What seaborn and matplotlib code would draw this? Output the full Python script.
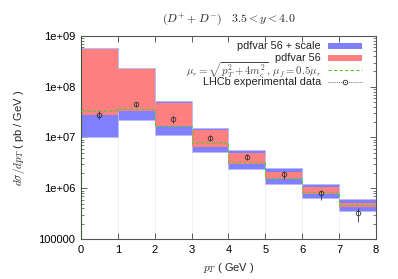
"""Recreate the D+ + D- pT spectrum plot (3.5 < y < 4.0)."""

import matplotlib

matplotlib.use("Agg")
import matplotlib.pyplot as plt
import numpy as np
import seaborn as sns
from matplotlib.lines import Line2D
from matplotlib.patches import Rectangle

# bin edges in pT (GeV)
pt_edges = [0, 1, 2, 3, 4, 5, 6, 7, 8]

# pdfvar 56 + scale envelope
scale_hi = [5.7e8, 2.3e8, 5.2e7, 1.52e7, 5.7e6, 2.54e6, 1.21e6, 6.1e5]
scale_lo = [1.04e7, 2.2e7, 1.12e7, 5.1e6, 2.4e6, 1.21e6, 6.3e5, 3.57e5]

# pdfvar 56 band
pdf_hi = [5.5e8, 2.24e8, 4.7e7, 1.39e7, 4.9e6, 2.12e6, 1.04e6, 5.2e5]
pdf_lo = [2.8e7, 3.3e7, 1.7e7, 6.6e6, 3.0e6, 1.5e6, 7.7e5, 4.3e5]

# central prediction
central = [3.4e7, 3.6e7, 1.7e7, 7.7e6, 3.24e6, 1.59e6, 8.55e5, 4.7e5]

# LHCb data
lhcb_pt = [0.5, 1.5, 2.5, 3.5, 4.5, 5.5, 6.5, 7.5]
lhcb_val = [2.8e7, 4.5e7, 2.3e7, 9.9e6, 4.2e6, 1.88e6, 7.9e5, 3.2e5]
lhcb_lo = [2.3e7, 4.0e7, 1.95e7, 8.6e6, 3.6e6, 1.55e6, 5.9e5, 2.2e5]
lhcb_hi = [3.4e7, 5.1e7, 2.6e7, 1.1e7, 4.7e6, 2.2e6, 9.3e5, 4.0e5]

y_ticks = [1e5, 1e6, 1e7, 1e8, 1e9]
y_ticklabels = ["100000", "1e+06", "1e+07", "1e+08", "1e+09"]

BLUE = "#8080ff"
RED = "#ff8080"
GREEN = "#55cc33"
DARK = "#333333"

sns.set_style("ticks")
plt.rcParams["font.family"] = ["Liberation Sans", "DejaVu Sans"]
plt.rcParams["mathtext.fontset"] = "cm"

fig = plt.figure(figsize=(3.98, 2.79), dpi=100)
ax = fig.add_axes([0.2035, 0.1434, 0.7412, 0.7276])

lefts = np.array(pt_edges[:-1])
s_lo, s_hi = np.array(scale_lo), np.array(scale_hi)
p_lo, p_hi = np.array(pdf_lo), np.array(pdf_hi)

# faint bin separators below the boxes
ax.vlines(pt_edges[1:-1], 1e5, np.minimum(s_lo[:-1], s_lo[1:]),
          color="#eeeef8", lw=0.6, zorder=0.5)

ax.bar(lefts, s_hi - s_lo, bottom=s_lo, width=1, align="edge",
       color=BLUE, edgecolor="#b8b8ff", lw=0.5, zorder=1)
ax.bar(lefts, p_hi - p_lo, bottom=p_lo, width=1, align="edge",
       color=RED, edgecolor="none", zorder=2)

sns.lineplot(x=pt_edges, y=central + [central[-1]], drawstyle="steps-post",
             color=GREEN, lw=0.8, ax=ax, zorder=3)
ax.lines[-1].set_linestyle((0, (3, 2)))

val = np.array(lhcb_val)
ax.errorbar(lhcb_pt, lhcb_val,
            yerr=[val - np.array(lhcb_lo), np.array(lhcb_hi) - val],
            fmt="o", ms=3.3, mfc="none", mec=DARK, mew=0.6,
            ecolor=DARK, elinewidth=0.6, capsize=0, zorder=4)

ax.set_yscale("log")
ax.set_xlim(0, 8)
ax.set_ylim(1e5, 1e9)
ax.set_xticks(range(9))
ax.set_yticks(y_ticks)
ax.set_yticklabels(y_ticklabels)
ax.tick_params(axis="both", which="both", direction="in", top=True,
               right=True, labelsize=8, colors="#444444", labelcolor="black")
ax.tick_params(axis="both", which="major", length=4, width=0.6, pad=4)
ax.tick_params(axis="y", which="minor", length=2, width=0.5)
for side, spine in ax.spines.items():
    spine.set_linewidth(0.8)
    spine.set_color("#555555")
ax.spines["left"].set_color("#3c5a3c")

ax.set_xlabel(r"$p_T$ ( GeV )", fontsize=8, labelpad=5)
ax.set_ylabel(r"$d\sigma/dp_T$ ( pb / GeV )", fontsize=8, labelpad=8)
ax.set_title(r"$(D^{+} + D^{-})\quad 3.5 < y < 4.0$", fontsize=8.5, pad=10)

# legend drawn by hand: right-aligned text, sample on the right
W, H = 398.0, 279.0
rows = [46, 58, 70, 81.7]
labels = ["pdfvar 56 + scale", "pdfvar 56",
          r"$\mu_r = \sqrt{p_T^2 + 4m_c^2},\, \mu_f = 0.5\mu_r$",
          "LHCb experimental data"]
tx, hx0, hx1 = 321 / W, 328 / W, 362 / W
for y, lab in zip(rows, labels):
    is_math = "$" in lab
    fig.text(tx, 1 - y / H, lab, ha="right", va="center",
             fontsize=7.8,
             color="#444444" if is_math else "#222222")
for y, col in zip(rows[:2], [BLUE, RED]):
    fig.add_artist(Rectangle((hx0, 1 - (y + 3) / H), hx1 - hx0, 6 / H,
                             transform=fig.transFigure, color=col, lw=0))
yy = 1 - rows[2] / H
fig.add_artist(Line2D([hx0, hx1], [yy, yy], transform=fig.transFigure,
                      color=GREEN, lw=0.8, ls=(0, (3, 2))))
yy = 1 - rows[3] / H
fig.add_artist(Line2D([hx0, hx1], [yy, yy], transform=fig.transFigure,
                      color=DARK, lw=0.6, ls=(0, (1, 1.5))))
fig.add_artist(Line2D([(hx0 + hx1) / 2], [yy], transform=fig.transFigure,
                      marker="o", ms=3.3, mfc="none", mec=DARK, mew=0.6))

fig.savefig("out.png", dpi=100)
